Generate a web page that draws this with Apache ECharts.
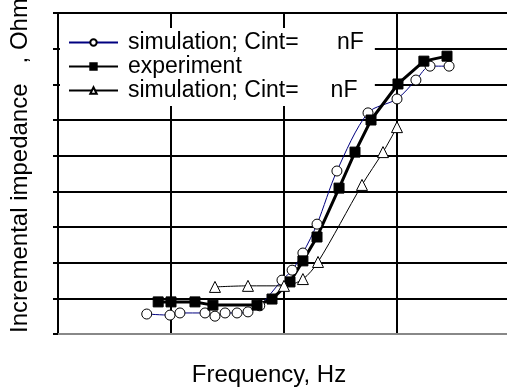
<!DOCTYPE html>
<html>
<head>
<meta charset="utf-8">
<script src="https://cdn.jsdelivr.net/npm/echarts@6/dist/echarts.min.js"></script>
<style>
html,body{margin:0;padding:0;background:#fff;}
#chart{width:507px;height:392px;}
</style>
</head>
<body>
<div id="chart"></div>
<script>
// Frequency (Hz, log axis) and incremental impedance (Ohm)
var sim1Freq = [6.1, 9.8, 12.0, 20.0, 24.5, 30.1, 38.4, 48.0, 61, 96, 118, 147, 196, 294, 554, 1000, 1470, 1960, 2890];
var sim1Z    = [0.56, 0.53, 0.59, 0.59, 0.50, 0.59, 0.59, 0.62, 0.79, 1.51, 1.79, 2.27, 3.08, 4.57, 6.20, 6.59, 7.12, 7.51, 7.51];

var expFreq = [7.7, 10, 16.3, 23.5, 57.7, 78.3, 113, 147, 196, 307, 425, 589, 1020, 1730, 2770];
var expZ    = [0.90, 0.90, 0.90, 0.81, 0.81, 0.98, 1.46, 2.05, 2.72, 4.09, 5.10, 6.00, 7.01, 7.65, 7.79];

var sim2Freq = [24.5, 48, 100, 147, 200, 490, 752, 1000];
var sim2Z    = [1.32, 1.35, 1.35, 1.54, 2.02, 4.18, 5.10, 5.80];

var seriesNames = ['simulation; Cint=\u00a0\u00a0\u00a0\u00a0\u00a0\u00a0nF', 'experiment', 'simulation; Cint=\u00a0\u00a0\u00a0\u00a0\u00a0nF'];
var xName = 'Frequency, Hz';
var yName = 'Incremental impedance\u00a0\u00a0\u00a0, Ohm';

function pairs(xs, ys) { return xs.map(function (x, i) { return [x, ys[i]]; }); }

var font = 'Arial, "Liberation Sans", sans-serif';
var chart = echarts.init(document.getElementById('chart'), null, {renderer: 'canvas'});
chart.setOption({
  animation: false,
  backgroundColor: '#fff',
  grid: {left: 58, top: 13, right: -3, bottom: 58, outerBoundsMode: 'none', containLabel: false,
         show: true, borderColor: '#888', borderWidth: 2, backgroundColor: 'transparent'},
  legend: {
    orient: 'vertical', left: 60, top: 28,
    backgroundColor: '#fff',
    padding: [3, 11, 4, 8],
    itemGap: 1, itemWidth: 49, itemHeight: 8,
    data: seriesNames,
    textStyle: {fontSize: 23, fontFamily: font, color: '#000', padding: [0, 0, 0, 5]}
  },
  xAxis: {
    type: 'log', logBase: 10, min: 1, max: 10000,
    name: xName, nameLocation: 'middle', nameGap: 29,
    nameTextStyle: {fontSize: 24, fontFamily: font, color: '#000', padding: [0, 30, 0, 0]},
    axisLine: {show: true, lineStyle: {color: '#888', width: 2}},
    axisTick: {show: false},
    axisLabel: {show: false},
    splitLine: {show: true, lineStyle: {color: '#000', width: 2}},
    minorSplitLine: {show: false}
  },
  yAxis: {
    type: 'value', min: 0, max: 9, interval: 1,
    name: yName, nameLocation: 'middle', nameGap: 26,
    nameTextStyle: {fontSize: 24, fontFamily: font, color: '#000', padding: [0, 0, 0, 16]},
    axisLine: {show: true, lineStyle: {color: '#000', width: 2}},
    axisTick: {show: true, inside: false, length: 5, lineStyle: {color: '#000', width: 2}},
    axisLabel: {show: false},
    splitLine: {show: true, lineStyle: {color: '#000', width: 2}}
  },
  series: [
    {
      name: seriesNames[0], type: 'line', data: pairs(sim1Freq, sim1Z), smooth: 0.3,
      symbol: 'circle', symbolSize: 10,
      lineStyle: {color: '#000080', width: 1},
      itemStyle: {color: '#fff', borderColor: '#000', borderWidth: 1}
    },
    {
      name: seriesNames[1], type: 'line', data: pairs(expFreq, expZ), smooth: false,
      symbol: 'rect', symbolSize: 10,
      lineStyle: {color: '#000', width: 3},
      itemStyle: {color: '#000', borderColor: '#000', borderWidth: 1}
    },
    {
      name: seriesNames[2], type: 'line', data: pairs(sim2Freq, sim2Z), smooth: 0.3,
      symbol: 'triangle', symbolSize: 11,
      lineStyle: {color: '#000', width: 1},
      itemStyle: {color: '#fff', borderColor: '#000', borderWidth: 1}
    }
  ]
});
</script>
</body>
</html>
